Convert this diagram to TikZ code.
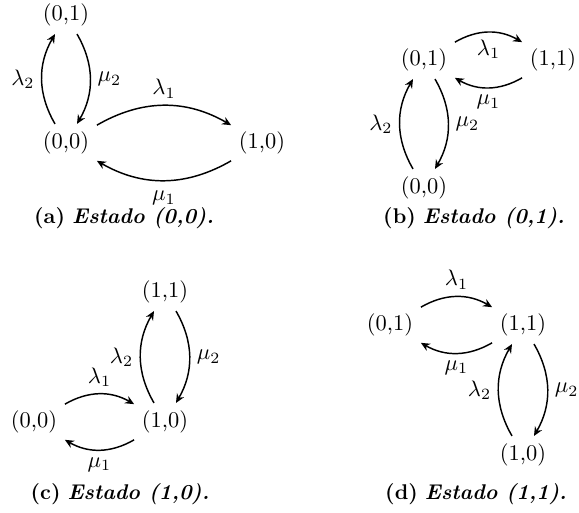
\documentclass[tikz,border=0pt]{standalone}
\usetikzlibrary{arrows.meta}
\begin{document}
\begin{tikzpicture}[x=0.446pt,y=-0.446pt,
  state/.style={inner sep=3.3pt},
  trans/.style={-{Stealth[length=4pt,width=3.6pt]}, line width=0.65pt, bend left=30},
  lbl/.style={auto, inner sep=3pt},
  capt/.style={inner sep=0pt, font=\fontsize{9.5}{11}\selectfont}]
\useasboundingbox (0,0) rectangle (579,513);
% panel a
\node[state] (a01) at (66,15) {(0,1)};
\node[state] (a00) at (66,143) {(0,0)};
\node[state] (a10) at (262,143) {(1,0)};
\draw[trans] (a00) to node[lbl] {$\lambda_2$} (a01);
\draw[trans] (a01) to node[lbl] {$\mu_2$} (a00);
\draw[trans] (a00) to node[lbl] {$\lambda_1$} (a10);
\draw[trans] (a10) to node[lbl,inner sep=4.5pt] {$\mu_1$} (a00);
\node[capt] (capa) at (124,218) {\textbf{(a)} \textbf{\textit{Estado (0,0).}}};
% panel b
\node[state] (b01) at (424,60) {(0,1)};
\node[state] (b11) at (553,60) {(1,1)};
\node[state] (b00) at (424,188) {(0,0)};
\draw[trans] (b01) to node[lbl,swap] {$\lambda_1$} (b11);
\draw[trans] (b11) to node[lbl] {$\mu_1$} (b01);
\draw[trans] (b00) to node[lbl] {$\lambda_2$} (b01);
\draw[trans] (b01) to node[lbl] {$\mu_2$} (b00);
\node[capt] (capb) at (474,218) {\textbf{(b)} \textbf{\textit{Estado (0,1).}}};
% panel c
\node[state] (c11) at (165,292) {(1,1)};
\node[state] (c10) at (165,422) {(1,0)};
\node[state] (c00) at (34,422) {(0,0)};
\draw[trans] (c00) to node[lbl] {$\lambda_1$} (c10);
\draw[trans] (c10) to node[lbl] {$\mu_1$} (c00);
\draw[trans] (c10) to node[lbl] {$\lambda_2$} (c11);
\draw[trans] (c11) to node[lbl] {$\mu_2$} (c10);
\node[capt] (capc) at (120,494) {\textbf{(c)} \textbf{\textit{Estado (1,0).}}};
% panel d
\node[state] (d01) at (390,325) {(0,1)};
\node[state] (d11) at (523,325) {(1,1)};
\node[state] (d10) at (523,455) {(1,0)};
\draw[trans] (d01) to node[lbl] {$\lambda_1$} (d11);
\draw[trans] (d11) to node[lbl] {$\mu_1$} (d01);
\draw[trans] (d10) to node[lbl] {$\lambda_2$} (d11);
\draw[trans] (d11) to node[lbl] {$\mu_2$} (d10);
\node[capt] (capd) at (476,494) {\textbf{(d)} \textbf{\textit{Estado (1,1).}}};
\end{tikzpicture}
\end{document}
